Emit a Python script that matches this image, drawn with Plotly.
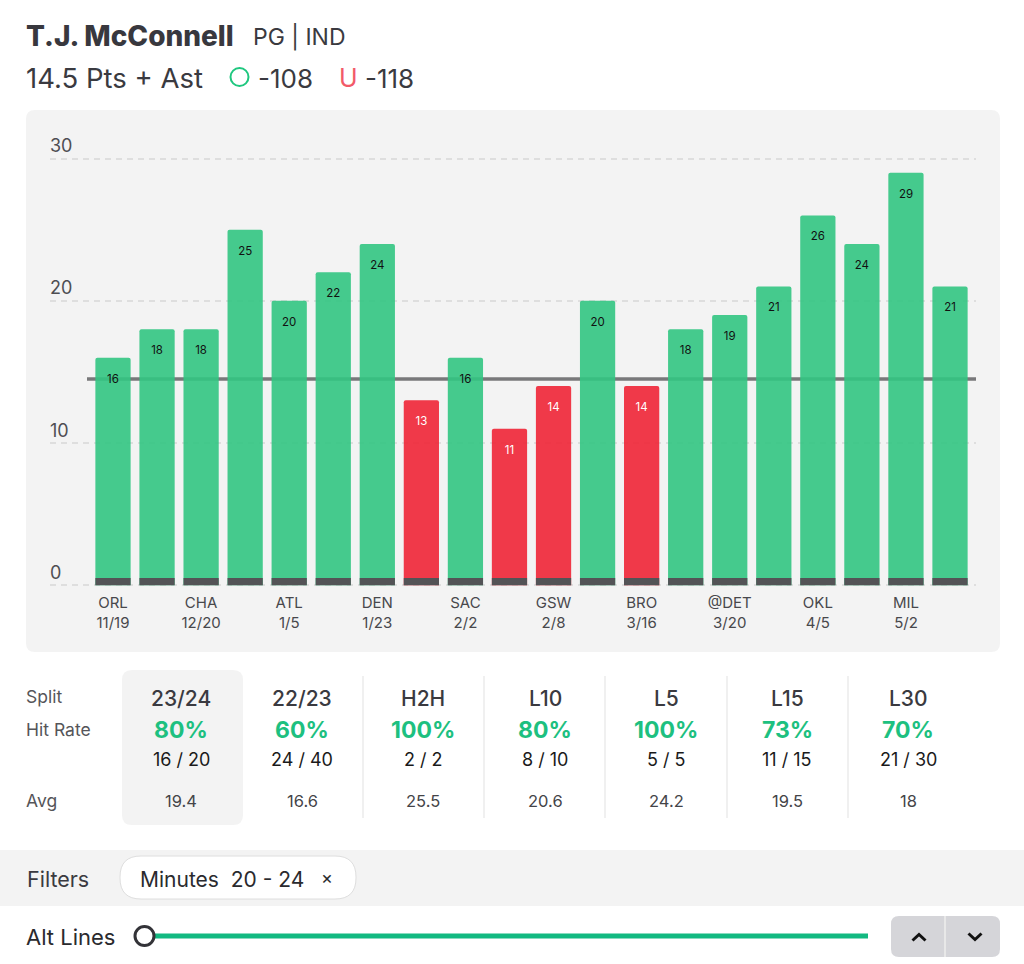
"""T.J. McConnell prop card: game log bars plus the split table and controls."""

import plotly.graph_objects as go

WIDTH = 1024
HEIGHT = 964
FONT = "Inter"

# Plot area inside the page, in pixels
PLOT_LEFT = 50
PLOT_RIGHT = 976
PLOT_TOP = 133
PLOT_BOTTOM = 588

# Game log
points_assists = [16, 18, 18, 25, 20, 22, 24, 13, 16, 11, 14, 20, 14, 18, 19, 21, 26, 24, 29, 21]
tick_opponents = ["ORL", "CHA", "ATL", "DEN", "SAC", "GSW", "BRO", "@DET", "OKL", "MIL"]
tick_dates = ["11/19", "12/20", "1/5", "1/23", "2/2", "2/8", "3/16", "3/20", "4/5", "5/2"]
prop_line = 14.5
base_strip = 0.5

# Split table
split_names = ["23/24", "22/23", "H2H", "L10", "L5", "L15", "L30"]
hit_rates = ["80%", "60%", "100%", "80%", "100%", "73%", "70%"]
hit_counts = ["16 / 20", "24 / 40", "2 / 2", "8 / 10", "5 / 5", "11 / 15", "21 / 30"]
split_avgs = ["19.4", "16.6", "25.5", "20.6", "24.2", "19.5", "18"]
split_centers = [181, 302, 423, 545, 666, 787, 908]

# Bars are slightly see-through so the prop line shows faintly behind them
GREEN = "rgba(50,197,130,0.9)"
RED = "rgba(239,37,54,0.9)"
DARK = "#535356"
PANEL = "#F3F3F3"
TEXT = "#3A3A40"


def px(x):
    return (x - PLOT_LEFT) / (PLOT_RIGHT - PLOT_LEFT)


def py(y):
    return (PLOT_BOTTOM - y) / (PLOT_BOTTOM - PLOT_TOP)


def rounded_rect(x0, y0, x1, y1, r):
    """SVG path for a rounded rectangle, given in page pixels."""
    return (
        f"M {px(x0 + r)} {py(y0)} L {px(x1 - r)} {py(y0)} Q {px(x1)} {py(y0)} {px(x1)} {py(y0 + r)} "
        f"L {px(x1)} {py(y1 - r)} Q {px(x1)} {py(y1)} {px(x1 - r)} {py(y1)} "
        f"L {px(x0 + r)} {py(y1)} Q {px(x0)} {py(y1)} {px(x0)} {py(y1 - r)} "
        f"L {px(x0)} {py(y0 + r)} Q {px(x0)} {py(y0)} {px(x0 + r)} {py(y0)} Z"
    )


def label(fig, x, y, text, size, color=TEXT, anchor="left", weight=400):
    fig.add_annotation(
        x=px(x), y=py(y), xref="paper", yref="paper", text=text, showarrow=False,
        xanchor=anchor, yanchor="middle", borderpad=0, borderwidth=0,
        font=dict(family=FONT, size=size, color=color, weight=weight),
    )


def panel(fig, x0, y0, x1, y1, r, fill, line=None, layer="below"):
    fig.add_shape(
        type="path", path=rounded_rect(x0, y0, x1, y1, r), xref="paper", yref="paper",
        fillcolor=fill, line=dict(color=line or fill, width=1 if line else 0), layer=layer,
    )


def segment(fig, points, color, width):
    path = "M " + " L ".join(f"{px(x)} {py(y)}" for x, y in points)
    fig.add_shape(
        type="path", path=path, xref="paper", yref="paper",
        line=dict(color=color, width=width), layer="above",
    )


games = list(range(len(points_assists)))
over = [v > prop_line for v in points_assists]

fig = go.Figure()

fig.add_trace(go.Bar(
    x=games, y=points_assists, width=0.8,
    marker=dict(color=[GREEN if o else RED for o in over], line=dict(width=0)),
    hoverinfo="skip",
))
fig.add_trace(go.Bar(
    x=games, y=[base_strip] * len(games), width=0.8,
    marker=dict(color=DARK, line=dict(width=0)), hoverinfo="skip",
))
fig.add_trace(go.Scatter(
    x=games, y=[v - 1.55 for v in points_assists], mode="text",
    text=[str(v) for v in points_assists],
    textfont=dict(family=FONT, size=11.5, color=["#111111" if o else "#FFFFFF" for o in over]),
    hoverinfo="skip",
))

# Chart card and page bands
panel(fig, 26, 110, 1000, 652, 9, PANEL)
panel(fig, 122, 670, 243, 825, 10, PANEL)
fig.add_shape(type="rect", xref="paper", yref="paper", x0=px(0), x1=px(WIDTH), y0=py(906), y1=py(850),
              fillcolor=PANEL, line=dict(width=0), layer="below")

# Prop line sits behind the bars
fig.add_shape(type="line", xref="x", yref="y", x0=-0.59, x1=19.59, y0=prop_line, y1=prop_line,
              line=dict(color="#78787A", width=3.5), layer="below")

# Header
label(fig, 26, 36, "T.J. McConnell", 28, "#38383E", weight=800)
label(fig, 253, 37, "PG | IND", 23)
label(fig, 26, 78, "14.5 Pts + Ast", 27.5)
fig.add_shape(type="circle", xref="paper", yref="paper", x0=px(230.5), x1=px(248.5), y0=py(86), y1=py(68),
              line=dict(color="#1FC77F", width=2), layer="above")
label(fig, 258, 78, "-108", 26)
label(fig, 339, 78, "U", 25, "#F25A68")
label(fig, 365, 78, "-118", 26)

# Split table
label(fig, 26, 696, "Split", 17.5, "#555559")
label(fig, 26, 729, "Hit Rate", 17.5, "#555559")
label(fig, 26, 800, "Avg", 17.5, "#555559")
for cx, name, rate, count, avg in zip(split_centers, split_names, hit_rates, hit_counts, split_avgs):
    label(fig, cx, 698, name, 21, TEXT, "center", 500)
    label(fig, cx, 730, rate, 23, "#1DC080", "center", 700)
    label(fig, cx, 759, count, 18, "#1A1A1A", "center")
    label(fig, cx, 801, avg, 16.5, "#444448", "center")
for sep in [363, 484, 605, 727, 848]:
    segment(fig, [(sep, 676), (sep, 818)], "#EBEBEB", 1.5)

# Filters
label(fig, 27, 879, "Filters", 21.5)
panel(fig, 120, 856, 356, 899, 21, "#FFFFFF", "#DEDEDE")
label(fig, 140, 879, "Minutes&nbsp;&nbsp;20 - 24", 21, "#2A2A2E")
label(fig, 327, 877, "×", 18, "#2A2A2E", "center")

# Alt lines slider and stepper
label(fig, 26, 937, "Alt Lines", 22, "#2A2A2E")
segment(fig, [(150, 936), (868, 936)], "#12B981", 5)
fig.add_shape(type="circle", xref="paper", yref="paper", x0=px(135), x1=px(154), y0=py(945.5), y1=py(926.5),
              fillcolor="#FFFFFF", line=dict(color="#333338", width=3), layer="above")
panel(fig, 891, 916, 1000, 957, 8, "#D5D5D9", layer="above")
segment(fig, [(945, 916), (945, 957)], "#E8E8E8", 2)
segment(fig, [(912.5, 940.5), (919, 934.5), (925.5, 940.5)], "#111111", 3)
segment(fig, [(968.5, 933.5), (975, 939.5), (981.5, 933.5)], "#111111", 3)

fig.update_layout(
    width=WIDTH,
    height=HEIGHT,
    margin=dict(l=PLOT_LEFT, r=WIDTH - PLOT_RIGHT, t=PLOT_TOP, b=HEIGHT - PLOT_BOTTOM),
    paper_bgcolor="#FFFFFF",
    plot_bgcolor="rgba(0,0,0,0)",
    barmode="overlay",
    barcornerradius=2,
    showlegend=False,
    xaxis=dict(
        range=[-1.43, 19.59],
        tickvals=games[::2],
        ticktext=[f"{o}<br>{d}" for o, d in zip(tick_opponents, tick_dates)],
        tickfont=dict(family=FONT, size=15, color="#48484C"),
        ticklabelstandoff=4,
        showgrid=False, zeroline=False, showline=False, ticks="",
    ),
    yaxis=dict(
        range=[-0.2, 31.8],
        tickvals=[0, 10, 20, 30],
        ticklabelposition="inside top",
        ticklabelstandoff=-3,
        tickfont=dict(family=FONT, size=18, color="#4E4E52"),
        zeroline=False, showline=False, ticks="",
        gridcolor="#DEDEDE", gridwidth=1.5, griddash="6px,5px",
    ),
)

fig.write_html(
    "out.html",
    config=dict(displayModeBar=False),
    post_script="document.body.style.margin='0';",
)
